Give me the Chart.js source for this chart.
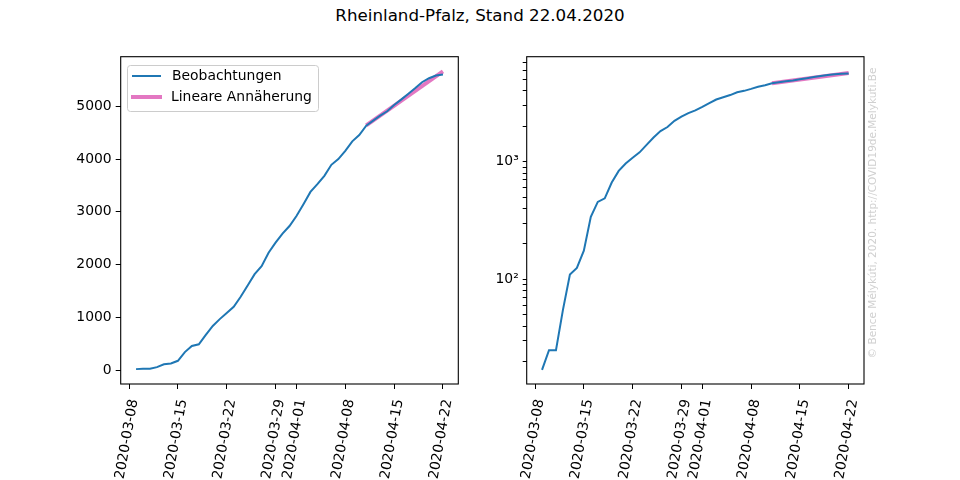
<!DOCTYPE html>
<html>
<head>
<meta charset="utf-8">
<script src="https://cdn.jsdelivr.net/npm/chart.js@4.4.0/dist/chart.umd.min.js"></script>
<style>
  body { margin: 0; background: #fff; }
  #wrap { position: relative; width: 960px; height: 480px; font-family: "DejaVu Sans", sans-serif; }
  #title { position: absolute; left: 0; top: 5px; width: 960px; text-align: center; font-size: 16.7px; color: #000; }
  canvas { position: absolute; top: 0; }
</style>
</head>
<body>
<div id="wrap">
  <div id="title">Rheinland-Pfalz, Stand 22.04.2020</div>
  <canvas id="linChart" width="480" height="480" style="left:0"></canvas>
  <canvas id="logChart" width="480" height="480" style="left:480px"></canvas>
</div>
<script>
const dates = [
  "2020-03-09", "2020-03-10", "2020-03-11", "2020-03-12", "2020-03-13", "2020-03-14", "2020-03-15",
  "2020-03-16", "2020-03-17", "2020-03-18", "2020-03-19", "2020-03-20", "2020-03-21", "2020-03-22",
  "2020-03-23", "2020-03-24", "2020-03-25", "2020-03-26", "2020-03-27", "2020-03-28", "2020-03-29",
  "2020-03-30", "2020-03-31", "2020-04-01", "2020-04-02", "2020-04-03", "2020-04-04", "2020-04-05",
  "2020-04-06", "2020-04-07", "2020-04-08", "2020-04-09", "2020-04-10", "2020-04-11", "2020-04-12",
  "2020-04-13", "2020-04-14", "2020-04-15", "2020-04-16", "2020-04-17", "2020-04-18", "2020-04-19",
  "2020-04-20", "2020-04-21", "2020-04-22"
];
const cases = [
  17, 25, 25, 55, 110, 125, 175,
  340, 455, 488, 665, 835, 965, 1080,
  1200, 1388, 1603, 1818, 1970, 2224, 2414,
  2586, 2730, 2920, 3143, 3376, 3523, 3681,
  3890, 3998, 4156, 4335, 4455, 4632, 4727,
  4822, 4906, 5025, 5126, 5234, 5342, 5456,
  5532, 5582, 5601
];
const fitDates = ["2020-04-11", "2020-04-22"];
const fitValues = [4640, 5660];

const xTickDates = ["2020-03-08", "2020-03-15", "2020-03-22", "2020-03-29", "2020-04-01", "2020-04-08", "2020-04-15", "2020-04-22"];
const linTicks = [0, 1000, 2000, 3000, 4000, 5000];
const logMajor = [100, 1000];
const logLabels = ["10\u00b2", "10\u00b3"];
const logMinor = [20, 30, 40, 50, 60, 70, 80, 90, 200, 300, 400, 500, 600, 700, 800, 900, 2000, 3000, 4000, 5000, 6000, 7000];

const blue = "#1f77b4";
const pink = "#e377c2";
const tickFont = { family: "DejaVu Sans", size: 13.9 };

// day number counted from 2020-03-01 = 1
const dayNum = (s) => (Date.UTC(+s.slice(0, 4), +s.slice(5, 7) - 1, +s.slice(8, 10)) - Date.UTC(2020, 2, 1)) / 86400000 + 1;
const xTickDays = xTickDates.map(dayNum);

const makeData = () => ({
  datasets: [
    {
      label: "Beobachtungen",
      data: dates.map((d, i) => ({ x: dayNum(d), y: cases[i] })),
      borderColor: blue,
      borderWidth: 2,
      pointRadius: 0,
      order: 0,
    },
    {
      label: "Lineare Annäherung",
      data: fitDates.map((d, i) => ({ x: dayNum(d), y: fitValues[i] })),
      borderColor: pink,
      borderWidth: 4,
      pointRadius: 0,
      order: 1,
    },
  ],
});

const frame = {
  id: "frame",
  afterDraw(chart) {
    const a = chart.chartArea;
    const ctx = chart.ctx;
    ctx.save();
    ctx.strokeStyle = "#000";
    ctx.lineWidth = 1.1;
    ctx.strokeRect(a.left, a.top, a.right - a.left, a.bottom - a.top);
    ctx.restore();
  },
};

const legendBox = {
  id: "legendBox",
  afterDraw(chart) {
    const ctx = chart.ctx;
    ctx.save();
    ctx.beginPath();
    ctx.roundRect(127.5, 65.5, 191, 46, 3);
    ctx.fillStyle = "rgba(255,255,255,0.8)";
    ctx.fill();
    ctx.strokeStyle = "#cccccc";
    ctx.lineWidth = 1;
    ctx.stroke();
    ctx.lineCap = "butt";
    ctx.strokeStyle = blue;
    ctx.lineWidth = 2;
    ctx.beginPath(); ctx.moveTo(132, 76); ctx.lineTo(161, 76); ctx.stroke();
    ctx.strokeStyle = pink;
    ctx.lineWidth = 4;
    ctx.beginPath(); ctx.moveTo(131, 97); ctx.lineTo(162, 97); ctx.stroke();
    ctx.fillStyle = "#000";
    ctx.font = "13.9px 'DejaVu Sans'";
    ctx.textBaseline = "middle";
    ctx.fillText("Beobachtungen", 172, 76);
    ctx.fillText("Lineare Annäherung", 171, 97);
    ctx.restore();
  },
};

const watermark = {
  id: "watermark",
  afterDraw(chart) {
    const ctx = chart.ctx;
    ctx.save();
    ctx.translate(393, 213);
    ctx.rotate(-Math.PI / 2);
    ctx.fillStyle = "#d0d0d0";
    ctx.font = "10.5px 'DejaVu Sans'";
    ctx.textAlign = "center";
    ctx.textBaseline = "middle";
    ctx.fillText("\u00a9 Bence Mélykúti, 2020. http://COVID19de.Melykuti.Be", 0, 0);
    ctx.restore();
  },
};

const xScale = () => ({
  type: "linear",
  min: 6.8,
  max: 55.2,
  afterBuildTicks: (s) => { s.ticks = xTickDays.map((v) => ({ value: v })); },
  afterFit: (s) => { s.height = 96; },
  grid: { drawOnChartArea: false, drawTicks: true, tickLength: 5, color: "#000" },
  border: { display: false },
  ticks: {
    autoSkip: false,
    minRotation: 80,
    maxRotation: 80,
    padding: 9,
    labelOffset: 5,
    color: "#000",
    font: tickFont,
    callback: (v) => xTickDates[xTickDays.indexOf(v)],
  },
});

const baseOptions = (pad, yAxis) => ({
  responsive: false,
  animation: false,
  layout: { padding: pad },
  plugins: { legend: { display: false }, tooltip: { enabled: false } },
  elements: { line: { tension: 0 } },
  scales: { x: xScale(), y: yAxis },
});

new Chart(document.getElementById("linChart"), {
  type: "line",
  data: makeData(),
  options: baseOptions({ left: 0, top: 56.7, right: 21.7, bottom: 0 }, {
    type: "linear",
    min: -265,
    max: 5940,
    afterBuildTicks: (s) => { s.ticks = linTicks.map((v) => ({ value: v })); },
    afterFit: (s) => { s.width = 120.7; },
    grid: { drawOnChartArea: false, drawTicks: true, tickLength: 5, color: "#000" },
    border: { display: false },
    ticks: { autoSkip: false, padding: 4, color: "#000", font: tickFont, callback: (v) => String(v) },
  }),
  plugins: [frame, legendBox],
});

new Chart(document.getElementById("logChart"), {
  type: "line",
  data: makeData(),
  options: baseOptions({ left: 0, top: 56.7, right: 96, bottom: 0 }, {
    type: "logarithmic",
    min: 12.9,
    max: 7800,
    afterBuildTicks: (s) => { s.ticks = logMajor.concat(logMinor).map((v) => ({ value: v })); },
    afterFit: (s) => { s.width = 46.7; },
    grid: {
      drawOnChartArea: false,
      drawTicks: true,
      tickLength: 4,
      color: "#000",
    },
    border: { display: false },
    ticks: {
      autoSkip: false,
      padding: 4,
      color: "#000",
      font: tickFont,
      callback: (v) => { const i = logMajor.indexOf(v); return i >= 0 ? logLabels[i] : ""; },
    },
  }),
  plugins: [frame, watermark],
});
</script>
</body>
</html>
